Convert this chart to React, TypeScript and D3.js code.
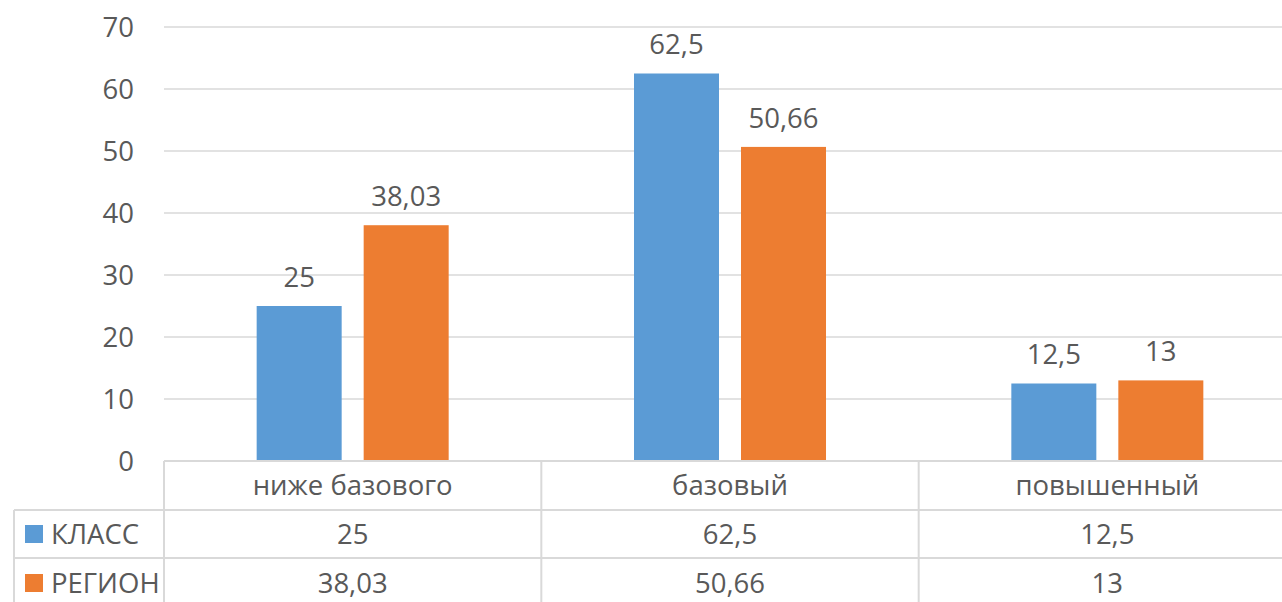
import React from 'react';
import * as d3 from 'd3';

const categories = ['ниже базового', 'базовый', 'повышенный'];
const seriesNames = ['КЛАСС', 'РЕГИОН'];
const klass = [25, 62.5, 12.5];
const region = [38.03, 50.66, 13];
const yTicks = [0, 10, 20, 30, 40, 50, 60, 70];

const colors = ['#5b9bd5', '#ed7d31'];
const textColor = '#595959';
const gridColor = '#d9d9d9';
const font = '"Open Sans", "Noto Sans", sans-serif';

const fmt = (v: number) => String(v).replace('.', ',');

const App: React.FC = () => {
  const width = 1282;
  const height = 602;
  const plotLeft = 164;
  const plotRight = 1296;
  const plotTop = 27;
  const plotBottom = 461;
  const row1 = 510;
  const row2 = 558;
  const tableBottom = 606;
  const tableLeft = 14;
  const fs = 27.5;

  const series = [klass, region];

  const x = d3.scaleBand<string>().domain(categories).range([plotLeft, plotRight]);
  const inner = d3
    .scaleBand<number>()
    .domain([0, 1])
    .range([0, x.bandwidth()])
    .paddingInner(0.2056)
    .paddingOuter(0.866);
  const y = d3.scaleLinear().domain([0, 70]).range([plotBottom, plotTop]);

  const verticals = [...categories.map((c) => x(c)!), plotRight];

  return (
    <svg width={width} height={height} style={{ position: 'absolute', left: 0, top: 0, background: '#fff' }}>
      {/* gridlines */}
      {yTicks.slice(1).map((t) => (
        <line key={t} x1={plotLeft} x2={plotRight} y1={y(t)} y2={y(t)} stroke={gridColor} strokeWidth={1.5} />
      ))}
      {/* y tick labels */}
      {yTicks.map((t) => (
        <text
          key={t}
          x={134}
          y={y(t)}
          dy="0.36em"
          textAnchor="end"
          fontFamily={font}
          fontSize={fs}
          fill={textColor}
        >
          {t}
        </text>
      ))}
      {/* bars */}
      {categories.map((c, ci) =>
        series.map((s, si) => (
          <g key={`${c}-${si}`}>
            <rect
              x={x(c)! + inner(si)!}
              y={y(s[ci])}
              width={inner.bandwidth()}
              height={plotBottom - y(s[ci])}
              fill={colors[si]}
            />
            <text
              x={x(c)! + inner(si)! + inner.bandwidth() / 2}
              y={y(s[ci]) - 29}
              dy="0.36em"
              textAnchor="middle"
              fontFamily={font}
              fontSize={fs}
              fill={textColor}
            >
              {fmt(s[ci])}
            </text>
          </g>
        ))
      )}
      {/* data table */}
      <g stroke={gridColor} strokeWidth={2} fill="none">
        <line x1={plotLeft} x2={plotRight} y1={plotBottom} y2={plotBottom} />
        <line x1={tableLeft} x2={plotRight} y1={row1} y2={row1} />
        <line x1={tableLeft} x2={plotRight} y1={row2} y2={row2} />
        <line x1={tableLeft} x2={tableLeft} y1={row1} y2={tableBottom} />
        {verticals.map((vx, i) => (
          <line key={i} x1={vx} x2={vx} y1={plotBottom} y2={tableBottom} />
        ))}
      </g>
      {categories.map((c) => (
        <text
          key={c}
          x={x(c)! + x.bandwidth() / 2}
          y={(plotBottom + row1) / 2}
          dy="0.36em"
          textAnchor="middle"
          fontFamily={font}
          fontSize={fs}
          fill={textColor}
        >
          {c}
        </text>
      ))}
      {seriesNames.map((name, si) => {
        const cy = si === 0 ? (row1 + row2) / 2 : (row2 + tableBottom) / 2 + 1;
        return (
          <g key={name}>
            <rect x={25} y={cy - 9} width={18} height={18} fill={colors[si]} />
            <text x={51} y={cy} dy="0.36em" fontFamily={font} fontSize={fs} fill={textColor}>
              {name}
            </text>
            {categories.map((c, ci) => (
              <text
                key={c}
                x={x(c)! + x.bandwidth() / 2}
                y={cy}
                dy="0.36em"
                textAnchor="middle"
                fontFamily={font}
                fontSize={fs}
                fill={textColor}
              >
                {fmt(series[si][ci])}
              </text>
            ))}
          </g>
        );
      })}
    </svg>
  );
};

export default App;
